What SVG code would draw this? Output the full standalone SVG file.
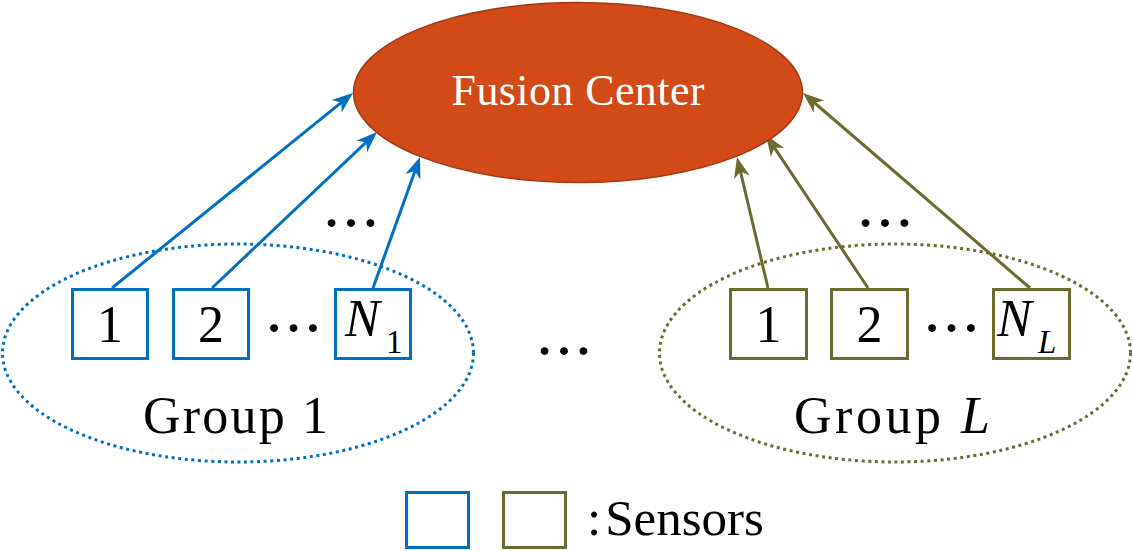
<svg xmlns="http://www.w3.org/2000/svg" width="1133" height="551" viewBox="0 0 1133 551">
<style>
.serif{font-family:"Liberation Serif","Times New Roman",serif;fill:#000}
.blue{stroke:#0070C0}
.olive{stroke:#6B6B30}
.box{fill:#fff;stroke-width:3}
.grp{fill:none;stroke-width:3;stroke-dasharray:3 3.6}
.conn{fill:none;stroke-width:3}
.lbl{font-size:52px;text-anchor:middle}
.dots{font-size:58px;text-anchor:middle;stroke:#000;stroke-width:1}
</style>
<defs>
<marker id="ab" markerUnits="userSpaceOnUse" orient="auto" refX="0" refY="0" markerWidth="40" markerHeight="40" overflow="visible">
<path d="M10,0 L-11,-8 L-5,0 L-11,8 Z" fill="#0070C0"/>
</marker>
<marker id="ao" markerUnits="userSpaceOnUse" orient="auto" refX="0" refY="0" markerWidth="40" markerHeight="40" overflow="visible">
<path d="M10,0 L-11,-8 L-5,0 L-11,8 Z" fill="#6B6B30"/>
</marker>
</defs>
<rect width="1133" height="551" fill="#fff"/>

<g id="group1">
<ellipse class="grp blue" cx="238" cy="353" rx="235.5" ry="109"/>
<text class="serif lbl" x="235.5" y="433" textLength="185" lengthAdjust="spacing">Group 1</text>
</g>
<g id="groupL">
<ellipse class="grp olive" cx="895" cy="353" rx="235.5" ry="109"/>
<text class="serif lbl" x="892" y="433" textLength="196" lengthAdjust="spacing">Group <tspan font-style="italic">L</tspan></text>
</g>

<g id="connectors">
<path class="conn blue" d="M112,288 L345.2,99.3" marker-end="url(#ab)"/>
<path class="conn blue" d="M212,288 L369.7,138.9" marker-end="url(#ab)"/>
<path class="conn blue" d="M373,288 L416.6,166.4" marker-end="url(#ab)"/>
<path class="conn olive" d="M768,288 L739.3,166.7" marker-end="url(#ao)"/>
<path class="conn olive" d="M868,288 L771.5,143.3" marker-end="url(#ao)"/>
<path class="conn olive" d="M1030,288 L810.6,99.5" marker-end="url(#ao)"/>
</g>

<g id="fusion">
<ellipse cx="578" cy="92.5" rx="224.5" ry="90" fill="#D14A17" stroke="#A33A12" stroke-width="1.5"/>
<text class="serif" x="578" y="105" font-size="44" text-anchor="middle" style="fill:#fff" textLength="253" lengthAdjust="spacing">Fusion Center</text>
</g>

<g id="g1s1">
<rect class="box blue" x="72.5" y="289.5" width="75" height="69"/>
<text class="serif lbl" x="110" y="342">1</text>
</g>
<g id="g1s2">
<rect class="box blue" x="173.5" y="289.5" width="75" height="69"/>
<text class="serif lbl" x="211" y="342">2</text>
</g>
<g id="g1sN">
<rect class="box blue" x="335.5" y="289.5" width="75" height="69"/>
<text class="serif" x="345" y="336" font-size="52" font-style="italic">N</text>
<text class="serif" x="386" y="353" font-size="33">1</text>
</g>

<g id="gLs1">
<rect class="box olive" x="730.5" y="289.5" width="76" height="69"/>
<text class="serif lbl" x="768.5" y="342">1</text>
</g>
<g id="gLs2">
<rect class="box olive" x="831.5" y="289.5" width="76" height="69"/>
<text class="serif lbl" x="869.5" y="342">2</text>
</g>
<g id="gLsN">
<rect class="box olive" x="993.5" y="289.5" width="76" height="69"/>
<text class="serif" x="997" y="336" font-size="52" font-style="italic">N</text>
<text class="serif" x="1038" y="353" font-size="33" font-style="italic">L</text>
</g>

<g id="ellipses">
<text class="serif dots" x="351" y="226">…</text>
<text class="serif dots" x="885" y="226">…</text>
<text class="serif dots" x="293.5" y="331">…</text>
<text class="serif dots" x="951.5" y="331">…</text>
<text class="serif dots" x="564" y="354">…</text>
</g>

<g id="legend">
<rect class="box blue" x="406.5" y="492.5" width="62" height="55"/>
<rect class="box olive" x="503.5" y="492.5" width="62" height="55"/>
<text class="serif" x="587" y="535" font-size="51">:<tspan dx="4">Sensors</tspan></text>
</g>
</svg>
